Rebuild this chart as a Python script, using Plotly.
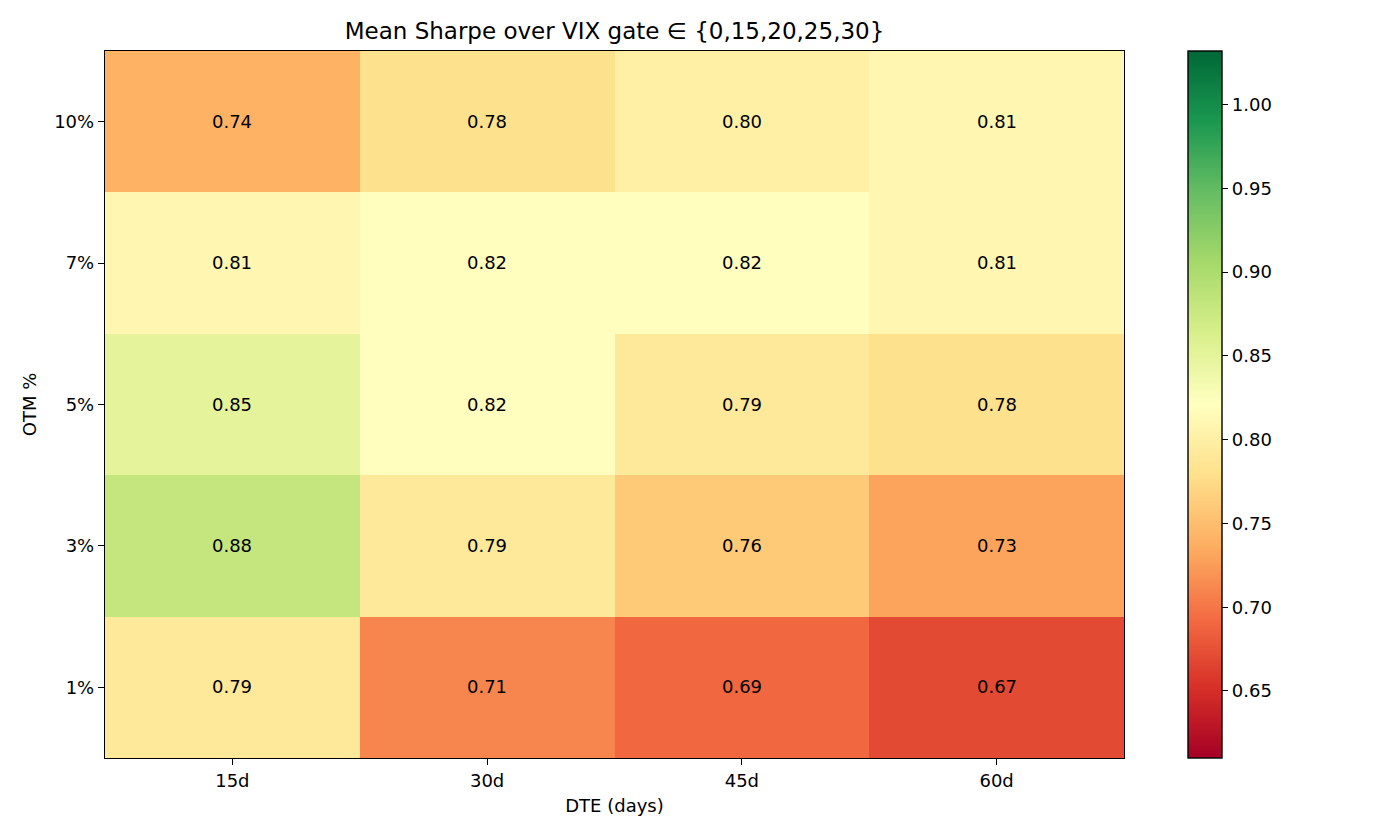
import plotly.graph_objects as go

dte_labels = ["15d", "30d", "45d", "60d"]
otm_labels = ["1%", "3%", "5%", "7%", "10%"]
sharpe_1 = [0.79, 0.71, 0.69, 0.67]
sharpe_3 = [0.88, 0.79, 0.76, 0.73]
sharpe_5 = [0.85, 0.82, 0.79, 0.78]
sharpe_7 = [0.81, 0.82, 0.82, 0.81]
sharpe_10 = [0.74, 0.78, 0.80, 0.81]
z = [sharpe_1, sharpe_3, sharpe_5, sharpe_7, sharpe_10]
cbar_ticks = [0.65, 0.70, 0.75, 0.80, 0.85, 0.90, 0.95, 1.00]

rdylgn = ["#a50026", "#d73027", "#f46d43", "#fdae61", "#fee08b", "#ffffbf",
          "#d9ef8b", "#a6d96a", "#66bd63", "#1a9850", "#006837"]
colorscale = [[i / 10, c] for i, c in enumerate(rdylgn)]

FONT = "DejaVu Sans"
FS = 18
L, R, T, B = 105, 1124, 51, 758
W, H = 1400, 840

fig = go.Figure(go.Heatmap(
    z=z, x=dte_labels, y=otm_labels,
    colorscale=colorscale, zmin=0.610, zmax=1.032,
    texttemplate="%{z:.2f}", textfont=dict(family=FONT, size=FS, color="black"),
    colorbar=dict(
        x=(1188 - L) / (R - L), xanchor="left", xref="paper", xpad=0,
        y=0.5, yanchor="middle", len=1.0, lenmode="fraction", ypad=0,
        thickness=34, thicknessmode="pixels",
        outlinewidth=1.4, outlinecolor="black",
        tickvals=cbar_ticks,
        tickformat=".2f", ticks="outside", ticklen=6, tickwidth=1.4, tickcolor="black",
        tickfont=dict(family=FONT, size=FS, color="black"),
    ),
    hoverinfo="skip",
))

axis_common = dict(
    showline=True, mirror=True, linecolor="black", linewidth=1.4,
    ticks="outside", ticklen=6, tickwidth=1.4, tickcolor="black", showgrid=False,
    tickfont=dict(family=FONT, size=FS, color="black"), zeroline=False,
)

fig.update_layout(
    width=W, height=H,
    margin=dict(l=L, r=W - R, t=T, b=H - B, pad=0),
    paper_bgcolor="white", plot_bgcolor="white",
    font=dict(family=FONT, size=FS, color="black"),
    title=dict(text="Mean Sharpe over VIX gate ∈ {0,15,20,25,30}",
               x=0.5, xref="paper", xanchor="center",
               y=1 - 31 / H, yref="container", yanchor="middle",
               font=dict(family=FONT, size=23, color="black")),
    xaxis=dict(title=dict(text="DTE (days)", standoff=9, font=dict(family=FONT, size=FS)),
               **axis_common),
    yaxis=dict(title=dict(text="OTM %", standoff=12, font=dict(family=FONT, size=FS)),
               **axis_common),
)

fig.write_html("out.html")
